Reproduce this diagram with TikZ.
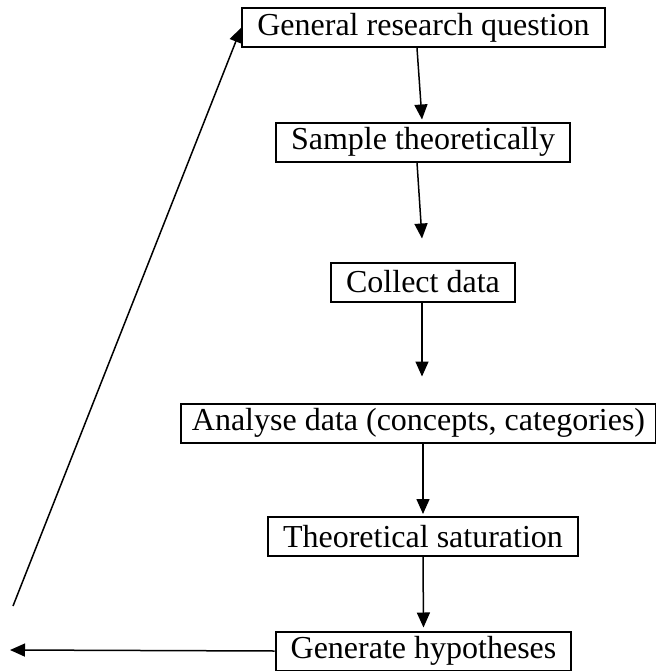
\documentclass[tikz,border=0pt]{standalone}
\usepackage{fontspec}
\setmainfont{Liberation Serif}
\usepackage{tikz}
\usetikzlibrary{arrows.meta}
\tikzset{
	box/.style={draw,line width=1pt,inner xsep=7.5pt,inner ysep=0pt,minimum height=19.5pt,font=\fontsize{16pt}{19pt}\selectfont},
	arr/.style={line width=0.75pt,-{Triangle[length=7.5pt,width=6.5pt]}}
}
\begin{document}
\begin{tikzpicture}[x=0.5pt,y=-0.5pt]
					\useasboundingbox (0,0) rectangle (656,671);
					\node [box] (question) at (423.5,27.5) {General research question};
					\node [box] (sample) at (423,142) {Sample theoretically};
					\node [box] (collect) at (423,282) {Collect data};
					\node [box,inner xsep=5.25pt] (analyse) at (418.5,423) {Analyse data (concepts, categories)};
					\node [box] (saturation) at (423,536.5) {Theoretical saturation};
					\node [box] (hypotheses) at (423.5,651) {Generate hypotheses};
					\coordinate (back) at (10,650);
					\coordinate (loop) at (13,606);

					\draw [arr] ([xshift=-3.25pt]question.south) -- ([xshift=-0.5pt,yshift=1pt]sample.north);
					\draw [arr] ([xshift=-3pt]sample.south) -- ([xshift=-0.5pt,yshift=11.5pt]collect.north);
					\draw [arr] ([xshift=-0.5pt]collect.south) -- ([xshift=-0.5pt,yshift=13pt]collect.south |- analyse.north);
					\draw [arr] (saturation.north |- analyse.south) -- ([yshift=1pt]saturation.north);
					\draw [arr] (saturation.south) -- ([yshift=1.5pt]hypotheses.north);
					\draw [arr] (hypotheses.west) -- (back);
					\draw [arr] (loop) -- (question.west);
				\end{tikzpicture}
\end{document}
